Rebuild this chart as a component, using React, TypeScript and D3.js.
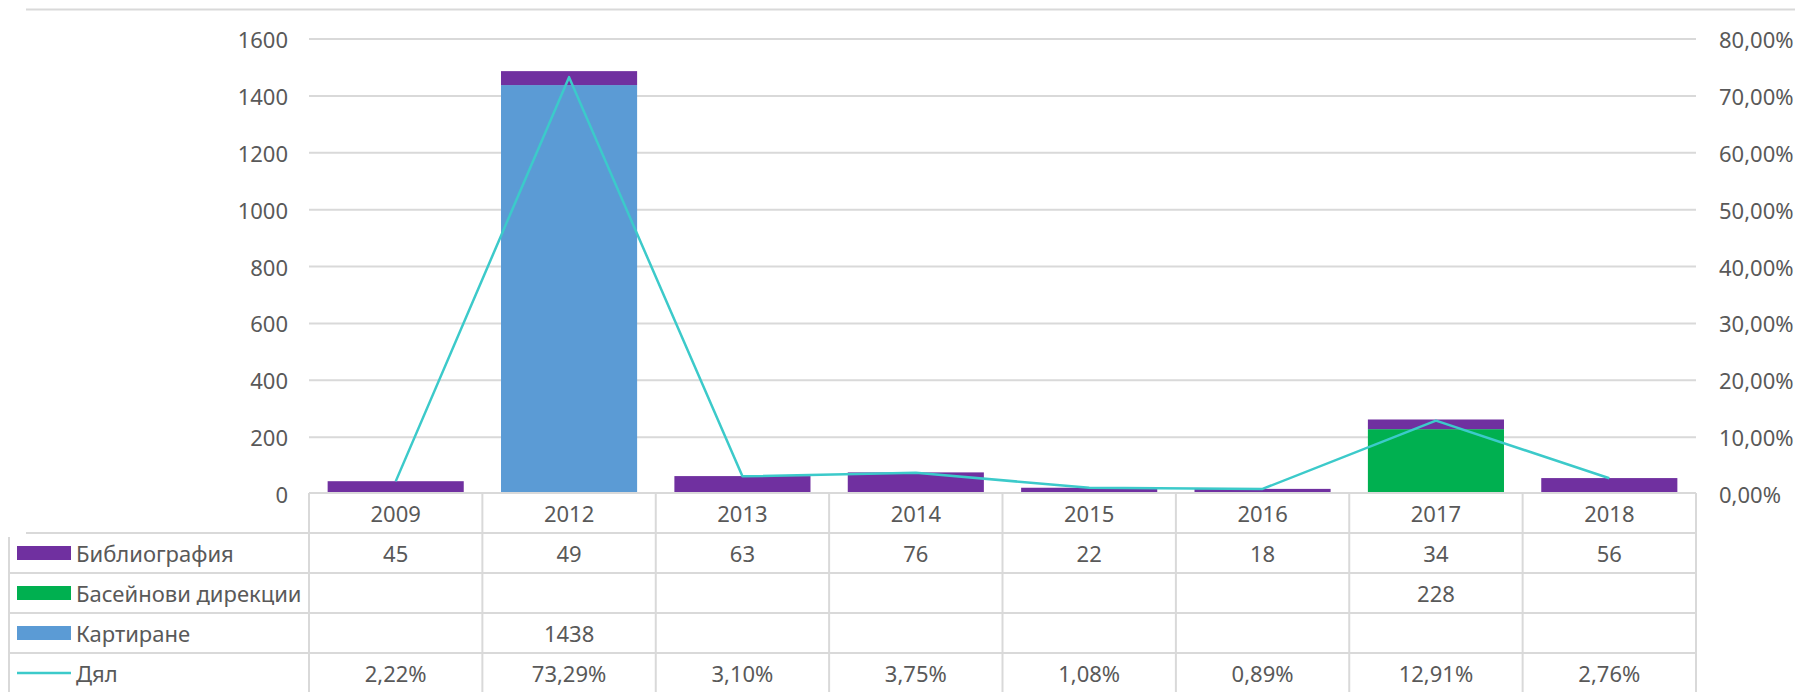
import * as d3 from "d3";

const years = ["2009", "2012", "2013", "2014", "2015", "2016", "2017", "2018"];
const bibliography = [45, 49, 63, 76, 22, 18, 34, 56];
const basinDirections = [null, null, null, null, null, null, 228, null];
const mapping = [null, 1438, null, null, null, null, null, null];
const share = [2.22, 73.29, 3.1, 3.75, 1.08, 0.89, 12.91, 2.76];
const leftTicks = [0, 200, 400, 600, 800, 1000, 1200, 1400, 1600];
const rightTicks = [0, 10, 20, 30, 40, 50, 60, 70, 80];

const seriesNames = {
  bib: "Библиография",
  basin: "Басейнови дирекции",
  map: "Картиране",
  share: "Дял",
};

const colors = {
  bib: "#7030A0",
  basin: "#00B050",
  map: "#5B9BD5",
  share: "#3CCACA",
};

const W = 1795;
const H = 692;
const font = "'Noto Sans', sans-serif";
const textColor = "#595959";
const gridColor = "#d9d9d9";

export default function App() {
  const left = 309;
  const right = 1696;
  const top = 39;
  const bottom = 494;

  const x = d3.scaleBand<string>().domain(years).range([left, right]).paddingInner(0.215).paddingOuter(0.1075);
  const cell = d3.scaleBand<string>().domain(years).range([left, right]);
  const y = d3.scaleLinear().domain([0, 1600]).range([bottom, top]);
  const y2 = d3.scaleLinear().domain([0, 80]).range([bottom, top]);

  const rows = years.map((yr, i) => ({
    year: yr,
    map: mapping[i] ?? 0,
    basin: basinDirections[i] ?? 0,
    bib: bibliography[i],
  }));
  const stack = d3.stack<any>().keys(["map", "basin", "bib"])(rows);

  const line = d3
    .line<number>()
    .x((_, i) => cell(years[i])! + cell.bandwidth() / 2)
    .y((d) => y2(d));

  const fmtPct = (v: number) => v.toFixed(2).replace(".", ",") + "%";

  const tableTop = 493;
  const rowH = 40;
  const tableRows = [
    { key: "bib", values: bibliography.map((v) => (v == null ? "" : String(v))) },
    { key: "basin", values: basinDirections.map((v) => (v == null ? "" : String(v))) },
    { key: "map", values: mapping.map((v) => (v == null ? "" : String(v))) },
    { key: "share", values: share.map(fmtPct) },
  ];

  return (
    <svg width={W} height={H} style={{ position: "absolute", left: 0, top: 0, background: "#fff" }} fontFamily={font}>
      <line x1={26} x2={W} y1={9.5} y2={9.5} stroke={gridColor} strokeWidth={2} />
      {leftTicks.map((t) => (
        <g key={t}>
          {t > 0 && <line x1={left} x2={right} y1={y(t)} y2={y(t)} stroke={gridColor} strokeWidth={2} />}
          <text x={288} y={y(t)} textAnchor="end" dominantBaseline="central" fontSize={22} fill={textColor}>
            {t}
          </text>
        </g>
      ))}
      {rightTicks.map((t) => (
        <text key={t} x={1719} y={y2(t)} dominantBaseline="central" fontSize={22} fill={textColor}>
          {fmtPct(t)}
        </text>
      ))}
      {stack.map((s) => (
        <g key={s.key} fill={(colors as any)[s.key]}>
          {s.map((d, i) =>
            d[1] - d[0] > 0 ? (
              <rect key={i} x={x(years[i])} width={x.bandwidth()} y={y(d[1])} height={y(d[0]) - y(d[1])} />
            ) : null
          )}
        </g>
      ))}
      <path d={line(share)!} fill="none" stroke={colors.share} strokeWidth={2.5} strokeLinejoin="round" />

      {/* data table */}
      <g stroke={gridColor} strokeWidth={2}>
        <line x1={left} x2={right} y1={tableTop} y2={tableTop} />
        {[1, 2, 3, 4, 5].map((r) => (
          <line key={r} x1={r === 1 ? 26 : 9} x2={right} y1={tableTop + r * rowH} y2={tableTop + r * rowH} />
        ))}
        {years.map((yr) => (
          <line key={yr} x1={cell(yr)} x2={cell(yr)} y1={tableTop} y2={H} />
        ))}
        <line x1={right} x2={right} y1={tableTop} y2={H} />
        <line x1={9} x2={9} y1={tableTop + rowH + 4} y2={H} />
      </g>
      {years.map((yr) => (
        <text
          key={yr}
          x={cell(yr)! + cell.bandwidth() / 2}
          y={tableTop + rowH / 2}
          textAnchor="middle"
          dominantBaseline="central"
          fontSize={22}
          fill={textColor}
        >
          {yr}
        </text>
      ))}
      {tableRows.map((row, r) => {
        const cy = tableTop + (r + 1) * rowH + rowH / 2;
        return (
          <g key={row.key}>
            {row.key === "share" ? (
              <line x1={17} x2={71} y1={cy} y2={cy} stroke={colors.share} strokeWidth={2.5} />
            ) : (
              <rect x={17} y={cy - 7} width={54} height={14} fill={(colors as any)[row.key]} />
            )}
            <text x={76} y={cy} dominantBaseline="central" fontSize={22} fill={textColor}>
              {(seriesNames as any)[row.key]}
            </text>
            {row.values.map((v, i) => (
              <text
                key={i}
                x={cell(years[i])! + cell.bandwidth() / 2}
                y={cy}
                textAnchor="middle"
                dominantBaseline="central"
                fontSize={22}
                fill={textColor}
              >
                {v}
              </text>
            ))}
          </g>
        );
      })}
    </svg>
  );
}
